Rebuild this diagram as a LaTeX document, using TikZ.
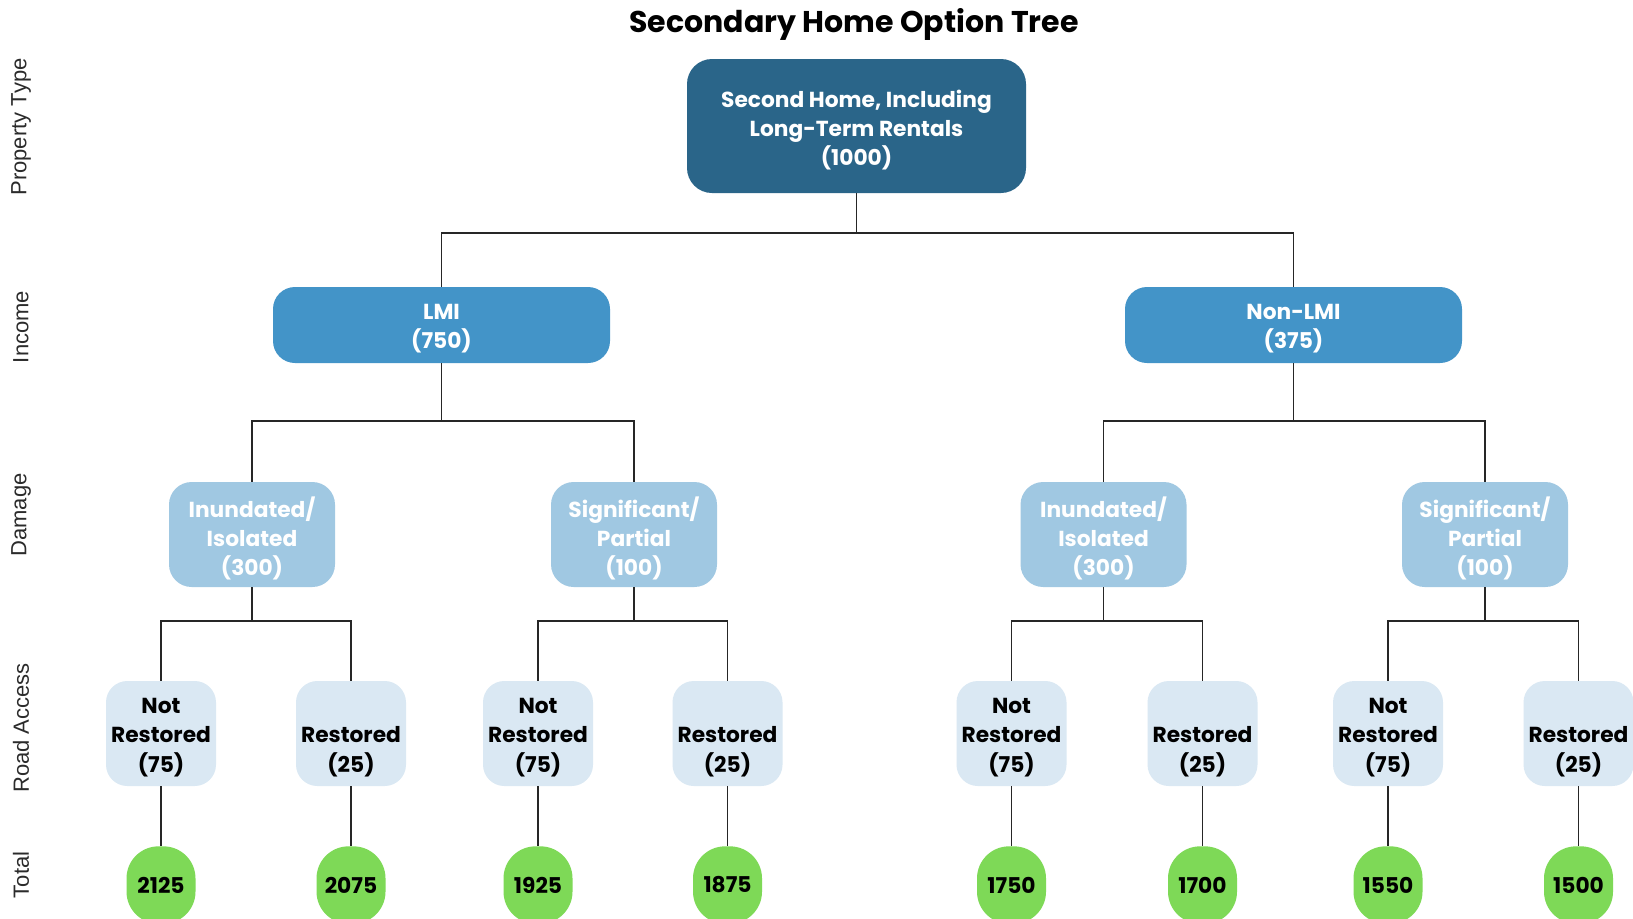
\documentclass[tikz,border=0pt]{standalone}
\usepackage{fontspec}
\setmainfont{Poppins}
\newfontfamily\labfont{Liberation Sans}
\definecolor{cRoot}{HTML}{2A6589}
\definecolor{cInc}{HTML}{4394C8}
\definecolor{cDam}{HTML}{A0C8E2}
\definecolor{cRoad}{HTML}{DAE8F3}
\definecolor{cTot}{HTML}{7ED957}
\definecolor{cLab}{HTML}{2B2B2B}
\tikzset{
  box/.style={rounded corners=#1, inner sep=0pt},
  txt/.style={inner sep=0pt, align=center, font=\fontsize{16.3pt}{21.9pt}\selectfont\bfseries},
  rootbox/.style={box=18.75pt, fill=cRoot, minimum width=254.25pt, minimum height=100.5pt},
  incbox/.style={box=16.5pt, fill=cInc, minimum width=252.75pt, minimum height=57pt},
  dambox/.style={box=17pt, fill=cDam, minimum width=124.5pt, minimum height=78.75pt},
  roadbox/.style={box=16pt, fill=cRoad, minimum width=82.5pt, minimum height=78.75pt},
  totbox/.style={box=24pt, txt, fill=cTot, text=black, minimum width=51.75pt, minimum height=58pt},
  conn/.style={draw=black!85, line width=1.1pt},
  sidelab/.style={rotate=90, font=\labfont\fontsize{16.5pt}{18pt}\selectfont, text=cLab, inner sep=0pt}
}
% #1 box style, #2 name, #3 position, #4 text colour, #5 text
\newcommand\tbox[5]{%
  \node[#1] (#2) at (#3) {};
  \node[txt, text=#4] (#2-t) at ([yshift=-3pt]#2.center) {#5};}
\begin{document}
\begin{tikzpicture}[x=0.75pt, y=-0.75pt]
\useasboundingbox (0,0) rectangle (1633,918);
\clip (0,0) rectangle (1633,918);
\fill[white] (0,0) rectangle (1633,918);
% title
\node[font=\fontsize{22.5pt}{26pt}\selectfont\bfseries, inner sep=0pt] (title) at (854,24) {Secondary Home Option Tree};
% side labels
\node[sidelab] (lab1) at (21,127) {Property Type};
\node[sidelab] (lab2) at (21,327) {Income};
\node[sidelab] (lab3) at (21,515) {Damage};
\node[sidelab] (lab4) at (21,728) {Road Access};
\node[sidelab] (lab5) at (21,875) {Total};
% level 0
\tbox{rootbox}{root}{856.5,126}{white}{Second Home, Including\\Long-Term Rentals\\(1000)}
% level 1
\tbox{incbox}{lmi}{441.5,325}{white}{LMI\\(750)}
\tbox{incbox}{nlmi}{1293.5,325}{white}{Non-LMI\\(375)}
% level 2
\tbox{dambox}{d1}{252,534.5}{white}{Inundated/\\Isolated\\(300)}
\tbox{dambox}{d2}{634,534.5}{white}{Significant/\\Partial\\(100)}
\tbox{dambox}{d3}{1103.5,534.5}{white}{Inundated/\\Isolated\\(300)}
\tbox{dambox}{d4}{1485,534.5}{white}{Significant/\\Partial\\(100)}
% level 3
\tbox{roadbox}{r1}{161,733.5}{black}{Not\\Restored\\(75)}
\tbox{roadbox}{r2}{351,733.5}{black}{\vphantom{Not}\\Restored\\(25)}
\tbox{roadbox}{r3}{538,733.5}{black}{Not\\Restored\\(75)}
\tbox{roadbox}{r4}{727.5,733.5}{black}{\vphantom{Not}\\Restored\\(25)}
\tbox{roadbox}{r5}{1011.5,733.5}{black}{Not\\Restored\\(75)}
\tbox{roadbox}{r6}{1202.5,733.5}{black}{\vphantom{Not}\\Restored\\(25)}
\tbox{roadbox}{r7}{1388,733.5}{black}{Not\\Restored\\(75)}
\tbox{roadbox}{r8}{1578.5,733.5}{black}{\vphantom{Not}\\Restored\\(25)}
% totals
\node[totbox] (t1) at (161,885) {2125};
\node[totbox] (t2) at (351,885) {2075};
\node[totbox] (t3) at (538,885) {1925};
\node[totbox] (t4) at (727.5,885) {1875};
\node[totbox] (t5) at (1011.5,885) {1750};
\node[totbox] (t6) at (1202.5,885) {1700};
\node[totbox] (t7) at (1388,885) {1550};
\node[totbox] (t8) at (1578.5,885) {1500};
% connectors level 0-1
\draw[conn] (root.south) -- (root.south |- 0,233) -| (lmi.north);
\draw[conn] (root.south |- 0,233) -| (nlmi.north);
% level 1-2
\draw[conn] (lmi.south) -- (lmi.south |- 0,421) -| (d1.north);
\draw[conn] (lmi.south |- 0,421) -| (d2.north);
\draw[conn] (nlmi.south) -- (nlmi.south |- 0,421) -| (d3.north);
\draw[conn] (nlmi.south |- 0,421) -| (d4.north);
% level 2-3
\draw[conn] (d1.south) -- (d1.south |- 0,621) -| (r1.north);
\draw[conn] (d1.south |- 0,621) -| (r2.north);
\draw[conn] (d2.south) -- (d2.south |- 0,621) -| (r3.north);
\draw[conn] (d2.south |- 0,621) -| (r4.north);
\draw[conn] (d3.south) -- (d3.south |- 0,621) -| (r5.north);
\draw[conn] (d3.south |- 0,621) -| (r6.north);
\draw[conn] (d4.south) -- (d4.south |- 0,621) -| (r7.north);
\draw[conn] (d4.south |- 0,621) -| (r8.north);
% level 3-4
\draw[conn] (r1.south) -- (t1.north);
\draw[conn] (r2.south) -- (t2.north);
\draw[conn] (r3.south) -- (t3.north);
\draw[conn] (r4.south) -- (t4.north);
\draw[conn] (r5.south) -- (t5.north);
\draw[conn] (r6.south) -- (t6.north);
\draw[conn] (r7.south) -- (t7.north);
\draw[conn] (r8.south) -- (t8.north);
\end{tikzpicture}
\end{document}
